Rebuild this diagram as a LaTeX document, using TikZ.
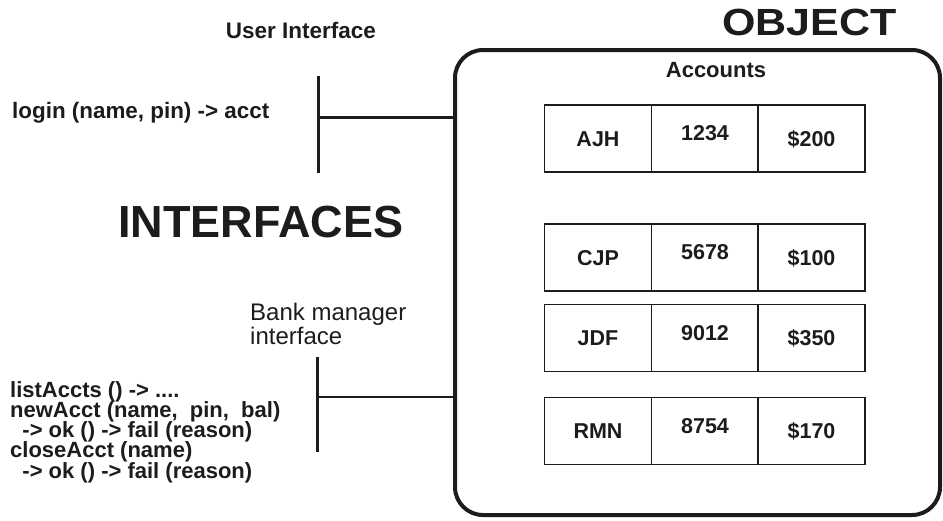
\documentclass[tikz,border=0pt]{standalone}
\usepackage{fontspec}
\setmainfont{Liberation Sans}
\definecolor{ink}{HTML}{1C1C1C}
\begin{document}
\begin{tikzpicture}[x=1pt,y=-1pt,
  every node/.style={inner sep=0pt,text=ink},
  title/.style={font=\fontsize{45}{50}\selectfont\bfseries},
  label/.style={font=\fontsize{22.5}{24}\selectfont\bfseries},
  ops/.style={font={\fontsize{22}{20.2}\selectfont\bfseries\lineskiplimit=-30pt\lineskip=0pt},align=left},
  note/.style={font=\fontsize{24}{24.5}\selectfont,align=left},
  cell/.style={draw=ink,line width=1.6pt,minimum width=107pt,minimum height=67pt,
    font=\fontsize{21.5}{24}\selectfont\bfseries,text height=15pt,text depth=0pt},
  wire/.style={draw=ink,line width=3pt}]
\useasboundingbox (0,0) rectangle (943,520);

% the object with its account table
\node[draw=ink,line width=4pt,rounded corners=28pt,minimum width=485pt,minimum height=465pt]
  (obj) at (697.5,282.5) {};
\node[title,font=\fontsize{43}{48}\selectfont\bfseries,anchor=base] (objt) at (809.5,35)
  {\scalebox{1}[0.88]{OBJECT}};
\node[label,font=\fontsize{22}{24}\selectfont\bfseries,anchor=base] (acc) at (716,77) {Accounts};

\foreach \n/\pin/\bal/\y [count=\i] in {AJH/1234/\$200/138.5, CJP/5678/\$100/257.5,
    JDF/9012/\$350/338, RMN/8754/\$170/431} {
  \node[cell] (name\i) at (598,\y) {\n};
  \node[cell] (pin\i)  at (705,\y) {\raisebox{5.5pt}{\pin}};
  \node[cell] (bal\i)  at (811.5,\y) {\bal};
}

% user interface
\node[label,anchor=base] (uilbl) at (301,38) {User Interface};
\node[ops,font={\fontsize{22.4}{20}\selectfont\bfseries},anchor=base west] (login) at (12,118) {login (name, pin) -> acct};
\coordinate (uitop) at (318,76);
\coordinate (uibot) at (318,173);
\coordinate (uimid) at (318,117);
\draw[wire] (uitop) -- (uibot);
\draw[wire] (uimid) -- (uimid -| obj.west);

\node[title,anchor=base west] (ifc) at (118,237) {INTERFACES};

% bank manager interface (base anchor sits on the last line)
\node[note,anchor=base west] (bmlbl) at (250,344.5) {Bank manager\\interface};
\node[ops,anchor=base west] (bmops) at (10,478)
  {listAccts () -> ....\\newAcct (name,\ \ pin,\ \ bal)\\\ \ -> ok () -> fail (reason)\\closeAcct (name)\\\ \ -> ok () -> fail (reason)};
\coordinate (bmtop) at (317,357);
\coordinate (bmbot) at (317,452);
\coordinate (bmmid) at (317,397);
\draw[wire] (bmtop) -- (bmbot);
\draw[wire,line width=2.2pt] (bmmid) -- (bmmid -| obj.west);
\end{tikzpicture}
\end{document}
